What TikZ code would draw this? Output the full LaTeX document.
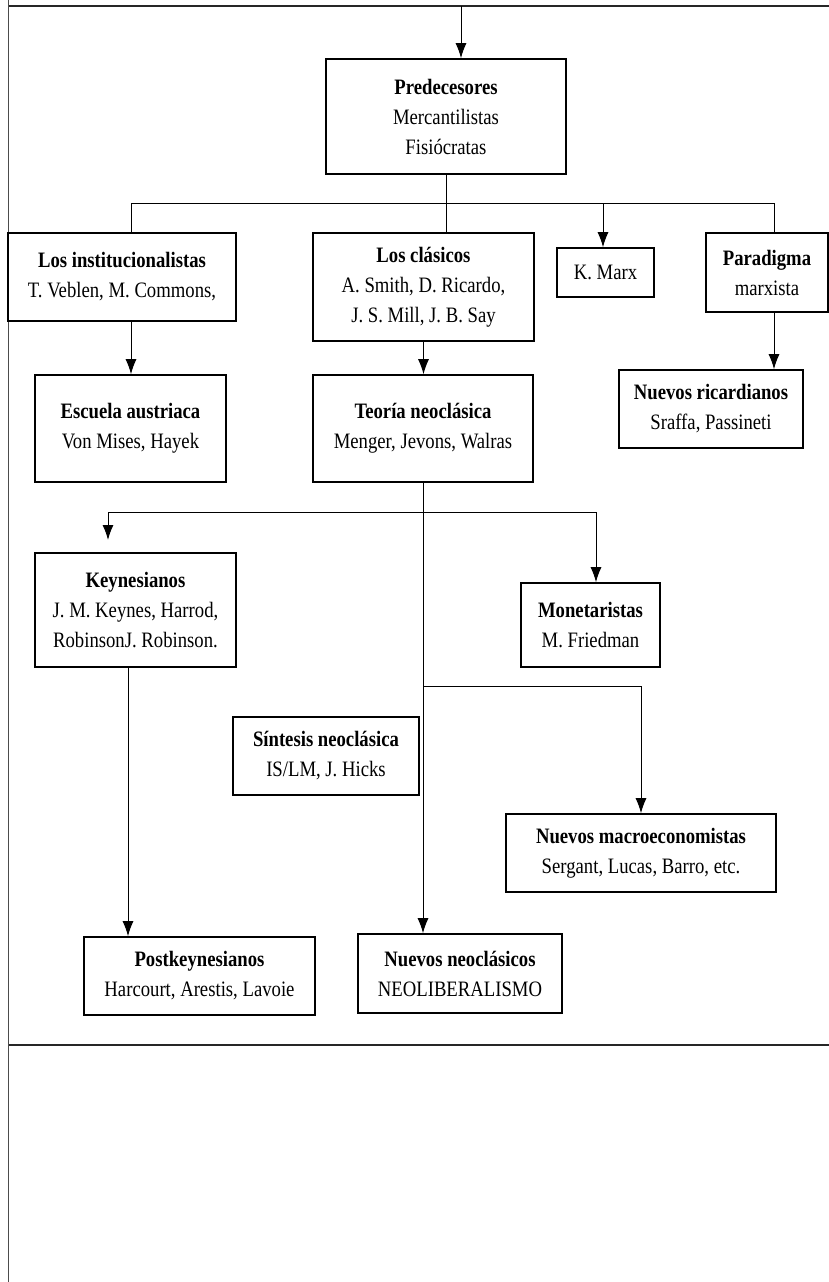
\documentclass[tikz,border=0pt]{standalone}
\usepackage{fontspec}
\setmainfont{Liberation Serif}[FakeStretch=0.85]
\usetikzlibrary{arrows.meta, calc}
\tikzset{caja/.style = {draw, line width=0.8pt, inner sep=0pt, align=center, font=\fontsize{11}{15}\selectfont}}
\tikzset{flecha/.style = {-{Latex[length=7.5pt, width=5.5pt]}, line width=0.5pt}}
\tikzset{linea/.style = {line width=0.5pt}}
\tikzset{regla/.style = {line width=1.3pt, draw=black!85}}

\begin{document}
\begin{tikzpicture}[x=0.5pt, y=-0.5pt]
\useasboundingbox (0,0) rectangle (829,1282);
% marco de la pagina
\draw[regla] (8,6) -- (829,6);
\draw[regla] (8,1045) -- (829,1045);
\draw[line width=0.5pt, draw=black!70] (8,0) -- (8,1282);
% cajas
\node[caja, minimum width=120pt, minimum height=57.5pt] (pred) at (446,116.5) {\textbf{Predecesores}\\Mercantilistas\\Fisiócratas};
\node[caja, minimum width=114pt, minimum height=44pt] (inst) at (122,277) {\textbf{Los institucionalistas}\\T. Veblen, M. Commons,};
\node[caja, minimum width=110.5pt, minimum height=54pt] (clas) at (423.5,287) {\textbf{Los clásicos}\\A. Smith, D. Ricardo,\\J. S. Mill, J. B. Say};
\node[caja, minimum width=48.5pt, minimum height=24.5pt] (marx) at (605.5,272.5) {K. Marx};
\node[caja, minimum width=61pt, minimum height=39.5pt] (para) at (767,272.5) {\textbf{Paradigma}\\marxista};
\node[caja, minimum width=95.5pt, minimum height=53.5pt] (escu) at (130.5,428.5) {\textbf{Escuela austriaca}\\Von Mises, Hayek};
\node[caja, minimum width=110pt, minimum height=53.5pt] (teor) at (423,428.5) {\textbf{Teoría neoclásica}\\Menger, Jevons, Walras};
\node[caja, minimum width=92pt, minimum height=39pt] (ricar) at (711,409) {\textbf{Nuevos ricardianos}\\Sraffa, Passineti};
\node[caja, minimum width=100.5pt, minimum height=57pt] (keyn) at (135.5,610) {\textbf{Keynesianos}\\J. M. Keynes, Harrod,\\RobinsonJ. Robinson.};
\node[caja, minimum width=69.5pt, minimum height=42pt] (mone) at (590.5,625) {\textbf{Monetaristas}\\M. Friedman};
\node[caja, minimum width=93pt, minimum height=39pt] (sint) at (326,756) {\textbf{Síntesis neoclásica}\\IS/LM, J. Hicks};
\node[caja, minimum width=135pt, minimum height=39pt] (macro) at (641,853) {\textbf{Nuevos macroeconomistas}\\Sergant, Lucas, Barro, etc.};
\node[caja, minimum width=115.5pt, minimum height=39pt] (postk) at (199.5,976) {\textbf{Postkeynesianos}\\Harcourt, Arestis, Lavoie};
\node[caja, minimum width=102pt, minimum height=39.5pt] (neocl) at (460,973.5) {\textbf{Nuevos neoclásicos}\\NEOLIBERALISMO};
% puntos de las ramas
\coordinate (entrada) at (461,6);
\coordinate (b1) at (131,203);
\coordinate (bm) at (603,203);
\coordinate (b2) at (774,203);
\coordinate (c1) at (108,512);
\coordinate (ck) at (108,540);
\coordinate (c2) at (596,512);
\coordinate (kp) at (128,0);
\coordinate (d2) at (641,686);
% conectores
\draw[flecha] (entrada) -- (entrada |- pred.north);
\draw[linea] (pred.south) -- (pred.south |- b1);
\draw[linea] (b1) -- (b2);
\draw[linea] (b1) -- (b1 |- inst.north);
\draw[linea] (pred.south |- b1) -- (pred.south |- clas.north);
\draw[flecha] (bm) -- (bm |- marx.north);
\draw[linea] (b2) -- (b2 |- para.north);
\draw[flecha] (b1 |- inst.south) -- (b1 |- escu.north);
\draw[flecha] (clas.south) -- (clas.south |- teor.north);
\draw[flecha] (b2 |- para.south) -- (b2 |- ricar.north);
\draw[flecha] (teor.south) -- (teor.south |- neocl.north);
\draw[linea] (c1) -- (c2);
\draw[flecha] (c1) -- (ck);
\draw[flecha] (c2) -- (c2 |- mone.north);
\draw[flecha] (kp |- keyn.south) -- (kp |- postk.north);
\draw[flecha] (teor.south |- d2) -- (d2) -- (d2 |- macro.north);
\end{tikzpicture}
\end{document}
